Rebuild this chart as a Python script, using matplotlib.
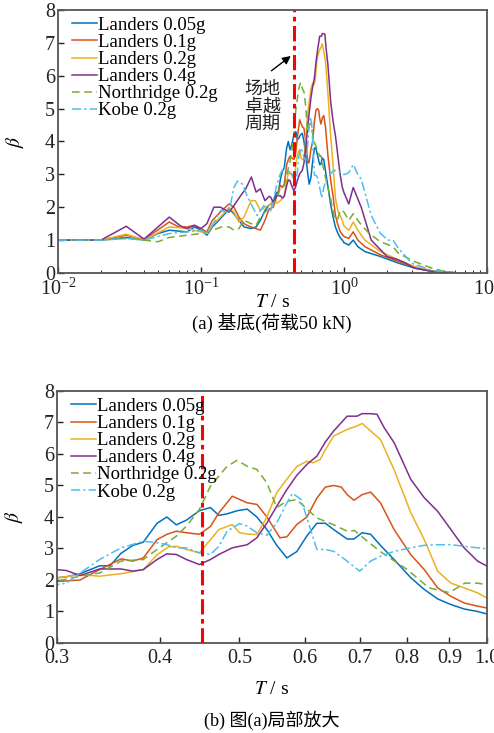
import matplotlib
matplotlib.use("Agg")
import matplotlib.pyplot as plt

plt.rcParams['font.family'] = ['Liberation Serif', 'Noto Sans CJK SC']
plt.rcParams['mathtext.fontset'] = 'stix'

# (T [s], beta)
L005 = [(0.01,1.0),(0.02,1.0),(0.03,1.08),(0.04,1.0),(0.05,1.2),(0.06,1.3),(0.08,1.25),(0.09,1.4),(0.1,1.3),
        (0.11,1.15),(0.12,1.4),(0.14,1.7),(0.157,1.95),(0.17,1.8),(0.184,1.6),(0.2,1.4),(0.224,1.35),(0.243,1.4),
        (0.26,1.6),(0.28,1.9),
        (0.300,2.07),(0.308,2.1),(0.320,2.2),(0.338,2.45),(0.348,2.45),(0.359,2.85),(0.371,3.1),(0.382,3.2),
        (0.397,3.8),(0.408,4.0),(0.419,3.75),(0.431,3.9),(0.447,4.2),(0.461,4.3),(0.472,4.05),(0.483,4.1),
        (0.497,4.2),(0.511,4.25),(0.525,4.0),(0.540,3.6),(0.555,3.1),(0.571,2.7),(0.587,2.9),(0.604,3.4),
        (0.621,3.8),(0.636,3.8),(0.651,3.6),(0.676,3.3),(0.689,3.3),(0.705,3.5),(0.722,3.45),(0.742,3.1),
        (0.771,2.65),(0.808,2.07),(0.839,1.7),(0.871,1.4),(0.904,1.22),(0.938,1.08),(0.974,1.0),(1.0,0.92),
        (1.08,0.85),(1.16,1.0),(1.25,0.8),(1.4,0.65),(1.8,0.5),(2.4,0.3),(3.1,0.15),(4.1,0.05),(6.0,0.0)]

L01 = [(0.01,1.0),(0.02,1.0),(0.03,1.15),(0.04,1.02),(0.06,1.55),(0.07,1.4),(0.08,1.4),(0.09,1.45),(0.1,1.35),
       (0.11,1.25),(0.12,1.6),(0.14,1.9),(0.157,2.1),(0.17,2.0),(0.184,1.7),(0.2,1.5),(0.21,1.45),(0.224,1.4),
       (0.243,1.35),(0.26,1.3),(0.28,1.6),
       (0.300,1.95),(0.320,2.0),(0.338,2.33),(0.359,2.67),(0.371,2.6),(0.382,2.7),(0.397,3.28),(0.408,3.45),
       (0.419,3.55),(0.431,3.5),(0.447,3.45),(0.461,3.7),(0.472,4.13),(0.49,4.66),(0.511,4.45),(0.525,4.4),
       (0.540,4.0),(0.56,3.34),(0.571,3.37),(0.587,3.76),(0.604,4.0),(0.621,4.6),(0.636,4.95),(0.651,5.0),
       (0.665,4.95),(0.676,4.71),(0.689,4.53),(0.705,4.71),(0.722,4.79),(0.742,4.45),(0.771,3.6),(0.808,2.8),
       (0.839,2.33),(0.871,1.75),(0.904,1.48),(0.938,1.27),(0.974,1.17),(1.0,1.11),
       (1.08,1.05),(1.16,1.25),(1.25,1.0),(1.4,0.8),(1.8,0.55),(2.4,0.35),(3.1,0.18),(4.1,0.06),(6.0,0.0)]

L02 = [(0.01,1.0),(0.02,1.0),(0.03,1.18),(0.04,1.0),(0.06,1.4),(0.08,1.35),(0.1,1.25),(0.11,1.2),(0.12,1.45),
       (0.14,1.75),(0.157,2.0),(0.17,1.85),(0.184,1.55),(0.2,1.7),(0.224,2.2),(0.24,2.2),(0.26,1.9),(0.28,2.0),
       (0.300,2.07),(0.320,2.17),(0.338,2.12),(0.359,2.2),(0.382,2.33),(0.397,2.8),(0.41,3.05),(0.419,3.07),
       (0.431,2.97),(0.447,2.86),(0.461,3.28),(0.472,3.6),(0.49,3.76),(0.50,3.5),(0.511,3.46),(0.525,3.44),
       (0.540,4.0),(0.555,4.77),(0.571,5.2),(0.587,5.6),(0.604,5.77),(0.615,5.72),(0.627,5.83),(0.636,6.14),
       (0.651,6.57),(0.676,6.78),(0.695,6.89),(0.705,6.97),(0.722,6.73),(0.742,6.46),(0.771,5.5),(0.808,4.13),
       (0.839,3.28),(0.871,2.28),(0.904,1.9),(0.938,1.75),(0.974,1.59),(1.0,1.43),
       (1.08,1.3),(1.16,1.55),(1.25,1.3),(1.4,1.0),(1.8,0.65),(2.4,0.4),(3.1,0.2),(4.1,0.07),(6.0,0.0)]

L04 = [(0.01,1.0),(0.02,1.0),(0.03,1.42),(0.04,1.03),(0.06,1.7),(0.072,1.43),(0.08,1.35),(0.09,1.45),(0.1,1.35),
       (0.11,1.5),(0.123,2.0),(0.137,2.0),(0.157,1.85),(0.17,2.05),(0.19,2.36),(0.205,2.55),(0.225,2.92),
       (0.243,2.46),(0.26,2.56),(0.28,2.2),
       (0.300,2.33),(0.308,2.3),(0.320,2.14),(0.338,2.35),(0.359,2.35),(0.371,2.28),(0.382,2.33),(0.397,2.65),
       (0.408,2.83),(0.419,2.81),(0.431,2.65),(0.447,2.49),(0.461,2.65),(0.472,2.81),(0.49,3.02),(0.511,3.12),
       (0.525,3.34),(0.540,3.81),(0.555,4.34),(0.571,4.87),(0.587,5.32),(0.604,5.67),(0.621,5.93),(0.636,6.38),
       (0.651,6.73),(0.676,7.2),(0.695,7.2),(0.705,7.28),(0.722,7.28),(0.735,7.26),(0.75,6.83),(0.771,6.36),
       (0.808,5.19),(0.839,4.61),(0.871,4.18),(0.904,3.6),(0.938,3.02),(0.974,2.6),(1.0,2.44),
       (1.08,2.1),(1.16,2.6),(1.32,2.0),(1.55,1.0),(2.0,0.5),(2.4,0.4),(2.7,0.3),(3.1,0.15),(4.1,0.05),(6.0,0.0)]

NR02 = [(0.01,1.0),(0.02,1.0),(0.03,1.05),(0.04,1.0),(0.05,0.95),(0.06,1.08),(0.08,1.15),(0.1,1.2),(0.12,1.3),
        (0.14,1.4),(0.157,1.4),(0.17,1.3),(0.184,1.35),(0.2,1.6),(0.224,1.5),(0.243,1.45),(0.26,1.7),(0.28,1.85),
        (0.300,1.96),(0.320,2.12),(0.338,2.22),(0.359,2.6),(0.382,2.65),(0.397,2.97),(0.419,3.39),(0.431,3.71),
        (0.447,4.24),(0.461,4.98),(0.483,5.61),(0.497,5.8),(0.511,5.61),(0.525,5.51),(0.540,5.08),(0.555,4.3),
        (0.571,4.5),(0.587,4.55),(0.604,4.25),(0.621,3.97),(0.651,3.75),(0.676,3.55),(0.69,3.57),(0.71,3.3),
        (0.742,2.9),(0.80,2.33),(0.85,1.75),(0.90,1.6),(0.94,1.9),(0.974,1.9),(1.0,1.85),
        (1.08,1.6),(1.16,1.8),(1.3,1.5),(1.5,1.2),(1.8,0.95),(2.2,0.8),(2.4,0.6),(3.1,0.35),(4.1,0.15),(5.0,0.05),(6.5,0.0)]

KB02 = [(0.01,1.0),(0.02,1.0),(0.03,1.05),(0.04,1.0),(0.06,1.2),(0.08,1.25),(0.1,1.3),(0.11,1.2),(0.12,1.45),
        (0.137,1.9),(0.157,1.85),(0.17,2.6),(0.18,2.8),(0.195,2.7),(0.21,2.35),(0.23,2.0),(0.247,1.75),(0.275,2.05),
        (0.300,1.85),(0.308,1.9),(0.320,2.22),(0.338,2.65),(0.359,3.02),(0.382,3.23),(0.397,3.18),(0.408,3.12),
        (0.419,3.02),(0.431,3.02),(0.447,2.86),(0.461,2.81),(0.472,3.07),(0.483,3.55),(0.50,3.79),(0.511,3.71),
        (0.525,3.5),(0.540,3.42),(0.555,3.81),(0.571,4.45),(0.58,4.75),(0.594,4.56),(0.604,3.97),(0.621,2.97),
        (0.636,2.97),(0.651,2.91),(0.676,2.6),(0.70,2.28),(0.722,2.6),(0.742,2.75),(0.771,2.91),(0.808,3.02),
        (0.839,3.1),(0.871,3.12),(0.904,3.12),(0.938,3.07),(0.974,3.02),(1.0,2.99),
        (1.08,3.05),(1.16,3.3),(1.25,3.0),(1.32,2.85),(1.55,1.75),(1.8,1.2),(2.03,1.0),(2.2,1.0),(2.4,0.75),
        (2.97,0.3),(4.1,0.08),(6.0,0.0)]

SERIES = [("Landers 0.05g", L005, "#0072BD", "-"),
          ("Landers 0.1g", L01, "#D95319", "-"),
          ("Landers 0.2g", L02, "#EDB120", "-"),
          ("Landers 0.4g", L04, "#7E2F8E", "-"),
          ("Northridge 0.2g", NR02, "#77AC30", (0, (5, 3))),
          ("Kobe 0.2g", KB02, "#4DBEEE", (0, (6, 2, 1.5, 2)))]
T_SITE = 0.45

fig = plt.figure(figsize=(4.94, 7.33), dpi=100)
ax1 = fig.add_axes([0.1174, 0.6276, 0.8684, 0.3588])
ax2 = fig.add_axes([0.1154, 0.1228, 0.8704, 0.3438])

for ax in (ax1, ax2):
    for name, pts, c, ls in SERIES:
        t = [p[0] for p in pts]; b = [p[1] for p in pts]
        ax.plot(t, b, color=c, ls=ls, lw=1.1, label=name)
    ax.axvline(T_SITE, color="red", ls=(0, (5, 1.5, 1.5, 1.5)), lw=2.2, zorder=5)
    ax.set_xscale("log")
    ax.set_ylim(0, 8)
    ax.set_yticks(range(9))
    ax.tick_params(direction="in", labelsize=14.5, length=4, width=1, colors="#222",
                   top=False, right=False, pad=2)
    ax.tick_params(axis="x", pad=4)
    ax.tick_params(which="minor", direction="in", length=2.5, top=False)
    for s in ax.spines.values():
        s.set_color("#555"); s.set_linewidth(1.3)
    ax.set_ylabel(r"$\beta$", fontsize=14)
    ax.set_xlabel(r"$T$ / s", fontsize=14)
    ax.legend(loc="upper left", frameon=False, fontsize=13.5, handlelength=1.33,
              handletextpad=0.1, labelspacing=0.0, borderaxespad=0.1,
              bbox_to_anchor=(0.01, 1.01))

ax1.yaxis.set_label_coords(-0.075, 0.5)
ax2.yaxis.set_label_coords(-0.075, 0.5)
ax1.xaxis.set_label_coords(0.5, -0.08)
ax2.xaxis.set_label_coords(0.5, -0.15)

ax1.set_xlim(0.01, 10)
ax2.set_xlim(0.3, 1.0)
ax2.minorticks_off()
xt = [0.3, 0.4, 0.5, 0.6, 0.7, 0.8, 0.9, 1.0]
ax2.set_xticks(xt)
ax2.set_xticklabels(["0.3", "0.4", "0.5", "0.6", "0.7", "0.8", "0.9", "1.0"])

ax1.annotate("", xy=(0.44, 6.65), xytext=(0.30, 6.1),
             arrowprops=dict(arrowstyle="-|>", color="k", lw=1.0, mutation_scale=12))
ax1.text(0.27, 5.05, "场地\n卓越\n周期", ha="center", va="center", fontsize=13,
         family=["Noto Sans CJK SC"], linespacing=1.0, color="#222")

fig.text(0.55, 1 - 323 / 733, "(a) 基底(荷载50 kN)", ha="center", va="center", fontsize=13.5)
fig.text(0.55, 1 - 720 / 733, "(b) 图(a)局部放大", ha="center", va="center", fontsize=13)

fig.savefig("out.png", dpi=100)
